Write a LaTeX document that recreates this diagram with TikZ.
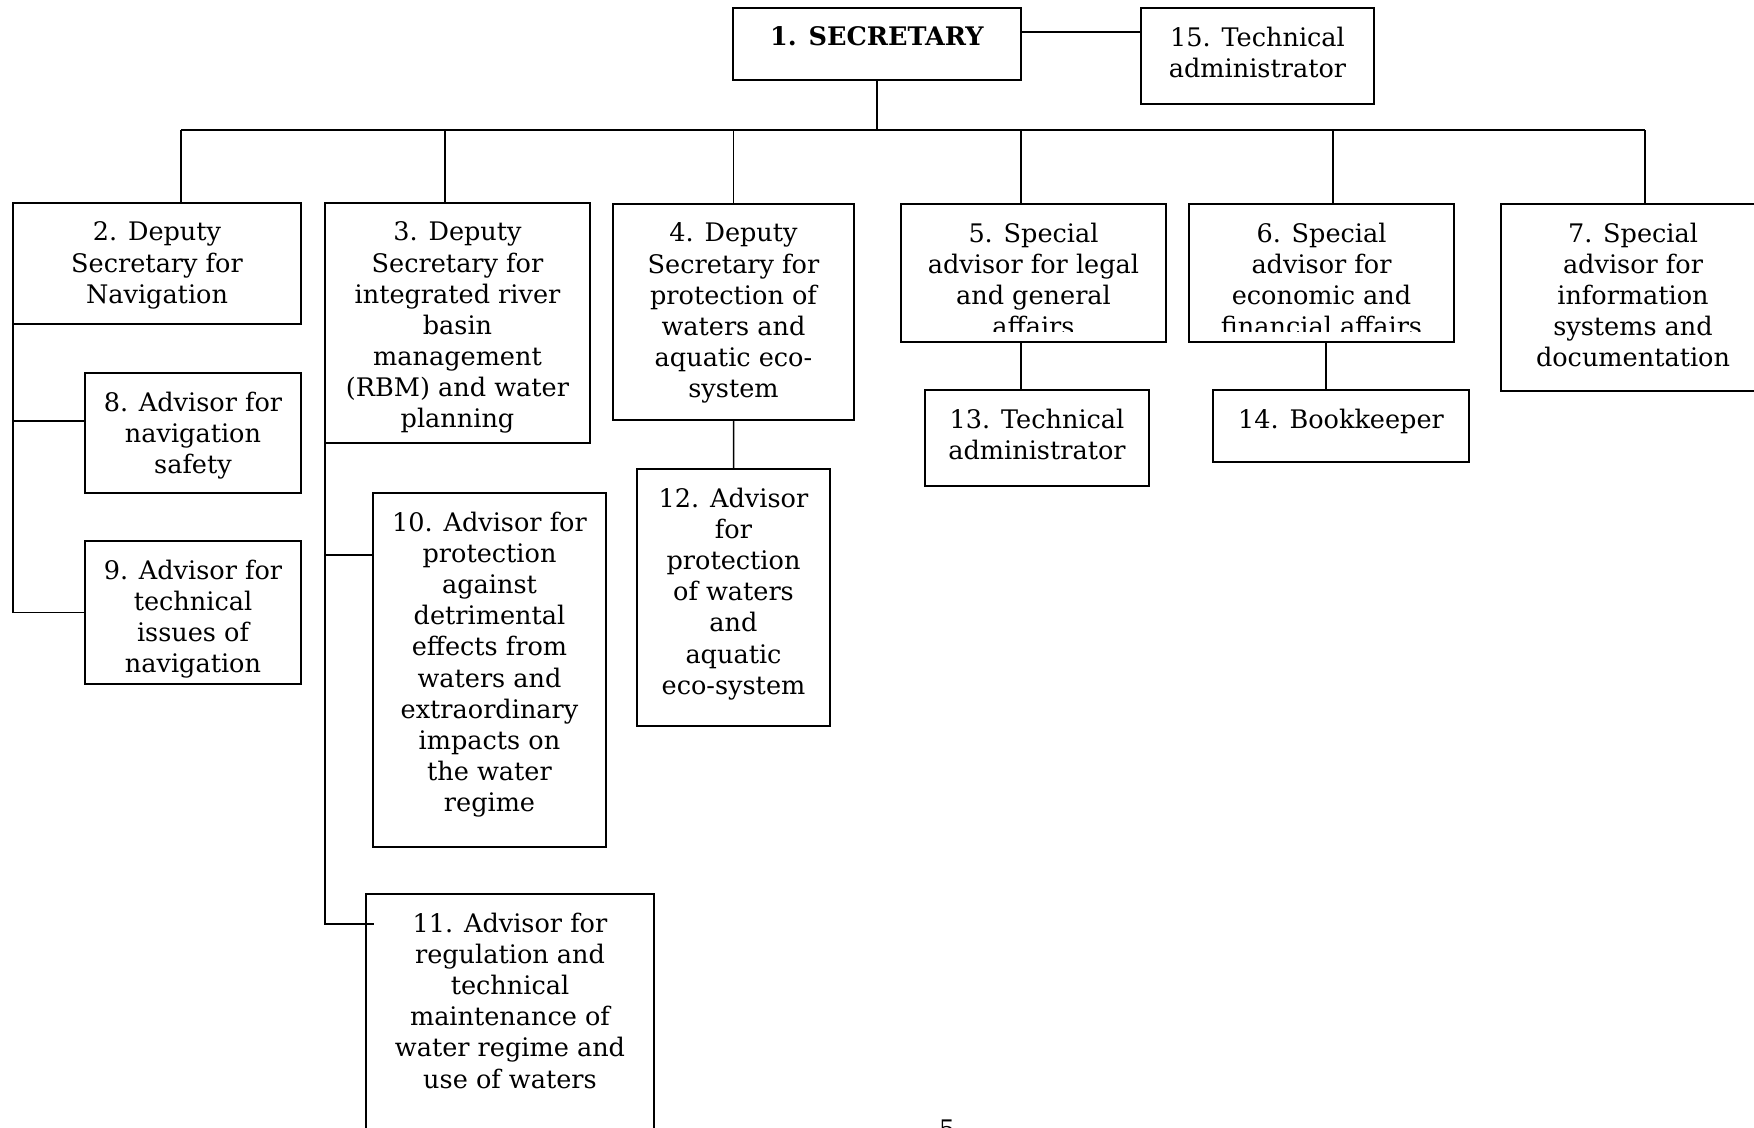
\documentclass[tikz,border=0pt]{standalone}
\usepackage{fontspec}
\setmainfont{DejaVu Serif}
\usepackage{tikz}
\usetikzlibrary{positioning,calc}

\begin{document}
\begin{tikzpicture}[x=0.03cm, y=-0.03cm,
  box/.style={draw, rectangle, line width=1.4pt, inner sep=0pt, outer sep=0pt, anchor=north west},
  txt/.style={align=center, anchor=north, inner sep=0pt, yshift=-0.56cm,
    font=\fontsize{21.8}{26.6}\selectfont},
  link/.style={line width=1.3pt}]
  \useasboundingbox (0,0) rectangle (1754,1128);
  \clip (0,0) rectangle (1754,1128);

  % Secretary and technical administrator
  \node[box, minimum width=8.64cm, minimum height=2.16cm] (b1) at (733,8) {};
  \node[txt] (t1) at (b1.north) {\textbf{1. SECRETARY}};
  \node[box, minimum width=6.99cm, minimum height=2.88cm] (b15) at (1141,8) {};
  \node[txt] (t15) at (b15.north) {15. Technical\\administrator};
  \draw[link] ([yshift=-0.72cm]b1.north east) -- ([yshift=-0.72cm]b15.north west);

  % First level
  \node[box, minimum width=8.64cm, minimum height=3.63cm] (b2) at (13,203) {};
  \node[txt] (t2) at (b2.north) {2. Deputy\\Secretary for\\Navigation};
  \node[box, minimum width=7.95cm, minimum height=7.2cm] (b3) at (325,203) {};
  \node[txt] (t3) at (b3.north) {3. Deputy\\Secretary for\\integrated river\\basin\\management\\(RBM) and water\\planning};
  \node[box, minimum width=7.23cm, minimum height=6.48cm] (b4) at (613,204) {};
  \node[txt] (t4) at (b4.north) {4. Deputy\\Secretary for\\protection of\\waters and\\aquatic eco-\\system};
  \node[box, minimum width=7.95cm, minimum height=4.14cm] (b5) at (901,204) {};
  \begin{scope}
    \clip (b5.north west) rectangle ([yshift=0.33cm]b5.south east);
    \node[txt] (t5) at (b5.north) {5. Special\\advisor for legal\\and general\\affairs};
  \end{scope}
  \node[box, minimum width=7.95cm, minimum height=4.14cm] (b6) at (1189,204) {};
  \begin{scope}
    \clip (b6.north west) rectangle ([yshift=0.33cm]b6.south east);
    \node[txt] (t6) at (b6.north) {6. Special\\advisor for\\economic and\\financial affairs};
  \end{scope}
  \node[box, minimum width=7.92cm, minimum height=5.61cm] (b7) at (1501,204) {};
  \node[txt] (t7) at (b7.north) {7. Special\\advisor for\\information\\systems and\\documentation};

  % Bus
  \coordinate (bus) at (0,130);
  \path (b2.north) ++(24,0) coordinate (d2);
  \path (b3.north) ++(-12.5,0) coordinate (d3);
  \path (b4.north) coordinate (d4);
  \path (b5.north) ++(-12.5,0) coordinate (d5);
  \path (b6.north) ++(11.5,0) coordinate (d6);
  \path (b7.north) ++(12,0) coordinate (d7);
  \draw[link] (b1.south) -- (b1.south |- bus);
  \draw[link] (d2 |- bus) -- (d7 |- bus);
  \foreach \d in {d2,d3,d4,d5,d6,d7}
    \draw[link] (\d) -- (\d |- bus);

  % Advisors under 2
  \node[box, minimum width=6.48cm, minimum height=3.6cm] (b8) at (85,373) {};
  \node[txt] (t8) at (b8.north) {8. Advisor for\\navigation\\safety};
  \node[box, minimum width=6.48cm, minimum height=4.29cm] (b9) at (85,541) {};
  \node[txt] (t9) at (b9.north) {9. Advisor for\\technical\\issues of\\navigation};
  \draw[link] (b2.south west) |- (b9.west);
  \draw[link] ([yshift=0.36cm]b8.west) -- +(-72,0);

  % Advisors under 3
  \node[box, minimum width=6.99cm, minimum height=10.62cm] (b10) at (373,493) {};
  \node[txt] (t10) at (b10.north) {10. Advisor for\\protection\\against\\detrimental\\effects from\\waters and\\extraordinary\\impacts on\\the water\\regime};
  \node[box, minimum width=8.64cm, minimum height=7.8cm] (b11) at (366,894) {};
  \node[txt] (t11) at (b11.north) {11. Advisor for\\regulation and\\technical\\maintenance of\\water regime and\\use of waters};
  \draw[link] (b3.south west) |- ([xshift=0.24cm, yshift=-0.9cm]b11.north west);
  \draw[link] ([yshift=-1.86cm]b10.north west) -- +(-48,0);

  % Advisor under 4
  \node[box, minimum width=5.79cm, minimum height=7.71cm] (b12) at (637,469) {};
  \node[txt] (t12) at (b12.north) {12. Advisor\\for\\protection\\of waters\\and\\aquatic\\eco-system};
  \draw[link] (b4.south) -- (b12.north);

  % Under 5 and 6
  \node[box, minimum width=6.72cm, minimum height=2.88cm] (b13) at (925,390) {};
  \node[txt] (t13) at (b13.north) {13. Technical\\administrator};
  \node[box, minimum width=7.68cm, minimum height=2.16cm] (b14) at (1213,390) {};
  \node[txt] (t14) at (b14.north) {14. Bookkeeper};
  \draw[link] ([xshift=-0.375cm]b5.south) -- ([xshift=-0.375cm]b5.south |- b13.north);
  \draw[link] ([xshift=0.135cm]b6.south) -- ([xshift=0.135cm]b6.south |- b14.north);

  % Page number
  \node[inner sep=0pt, anchor=north, font=\fontsize{21.8}{26.6}\selectfont] (pg) at (947,1120) {5};
\end{tikzpicture}
\end{document}
